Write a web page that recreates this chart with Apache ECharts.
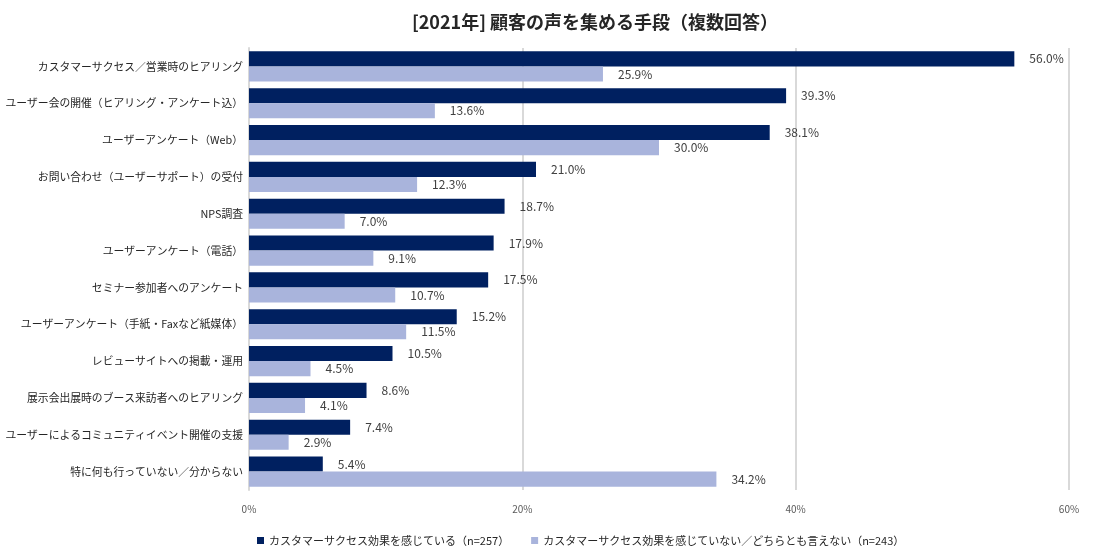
<!DOCTYPE html>
<html><head><meta charset="utf-8">
<script src="https://cdn.jsdelivr.net/npm/echarts@6/dist/echarts.min.js"></script>
<style>html,body{margin:0;padding:0;background:#fff}#c{width:1093px;height:559px}</style>
</head><body><div id="c"></div>
<script>
var categories = ["カスタマーサクセス／営業時のヒアリング","ユーザー会の開催（ヒアリング・アンケート込）","ユーザーアンケート（Web）","お問い合わせ（ユーザーサポート）の受付","NPS調査","ユーザーアンケート（電話）","セミナー参加者へのアンケート","ユーザーアンケート（手紙・Faxなど紙媒体）","レビューサイトへの掲載・運用","展示会出展時のブース来訪者へのヒアリング","ユーザーによるコミュニティイベント開催の支援","特に何も行っていない／分からない"];
var seriesNames = ["カスタマーサクセス効果を感じている（n=257）","カスタマーサクセス効果を感じていない／どちらとも言えない（n=243）"];
var feelEffect = [56.0,39.3,38.1,21.0,18.7,17.9,17.5,15.2,10.5,8.6,7.4,5.4];
var noEffect = [25.9,13.6,30.0,12.3,7.0,9.1,10.7,11.5,4.5,4.1,2.9,34.2];
var titleText = "[2021年] 顧客の声を集める手段（複数回答）";
var FONT = "'Noto Sans CJK JP', sans-serif";
var chart = echarts.init(document.getElementById('c'));
var lbl = {show:true, position:'right', distance:15, color:'#404040', fontSize:12, fontFamily:FONT, formatter:function(p){return p.value.toFixed(1)+'%';}};
chart.setOption({
  animation:false,
  title:{text:titleText, left:590, top:8, textAlign:'center', textStyle:{fontSize:18, fontWeight:'bold', color:'#262626', fontFamily:FONT}},
  legend:{bottom:8, left:252, icon:'rect', itemWidth:7, itemHeight:7, itemGap:22, textStyle:{fontSize:11, color:'#262626', fontFamily:FONT}, data:seriesNames},
  grid:{left:249, right:24, top:48, bottom:69, containLabel:false, outerBoundsMode:'none'},
  xAxis:{type:'value', min:0, max:60, interval:20, axisLabel:{formatter:'{value}%', fontSize:10, color:'#595959', margin:14, fontFamily:FONT}, splitLine:{lineStyle:{color:'#d9d9d9', width:2}}, axisLine:{show:false}, axisTick:{show:false}},
  yAxis:{type:'category', inverse:true, data:categories, axisTick:{show:false}, axisLine:{lineStyle:{color:'#d9d9d9', width:2}}, axisLabel:{fontSize:10.8, color:'#262626', margin:6, fontFamily:FONT}},
  series:[
    {name:seriesNames[0], type:'bar', data:feelEffect, barGap:'0%', barCategoryGap:'18%', itemStyle:{color:'#002060'}, label:lbl},
    {name:seriesNames[1], type:'bar', data:noEffect, barGap:'0%', barCategoryGap:'18%', itemStyle:{color:'#a9b4dc'}, label:lbl}
  ]
});
</script></body></html>
